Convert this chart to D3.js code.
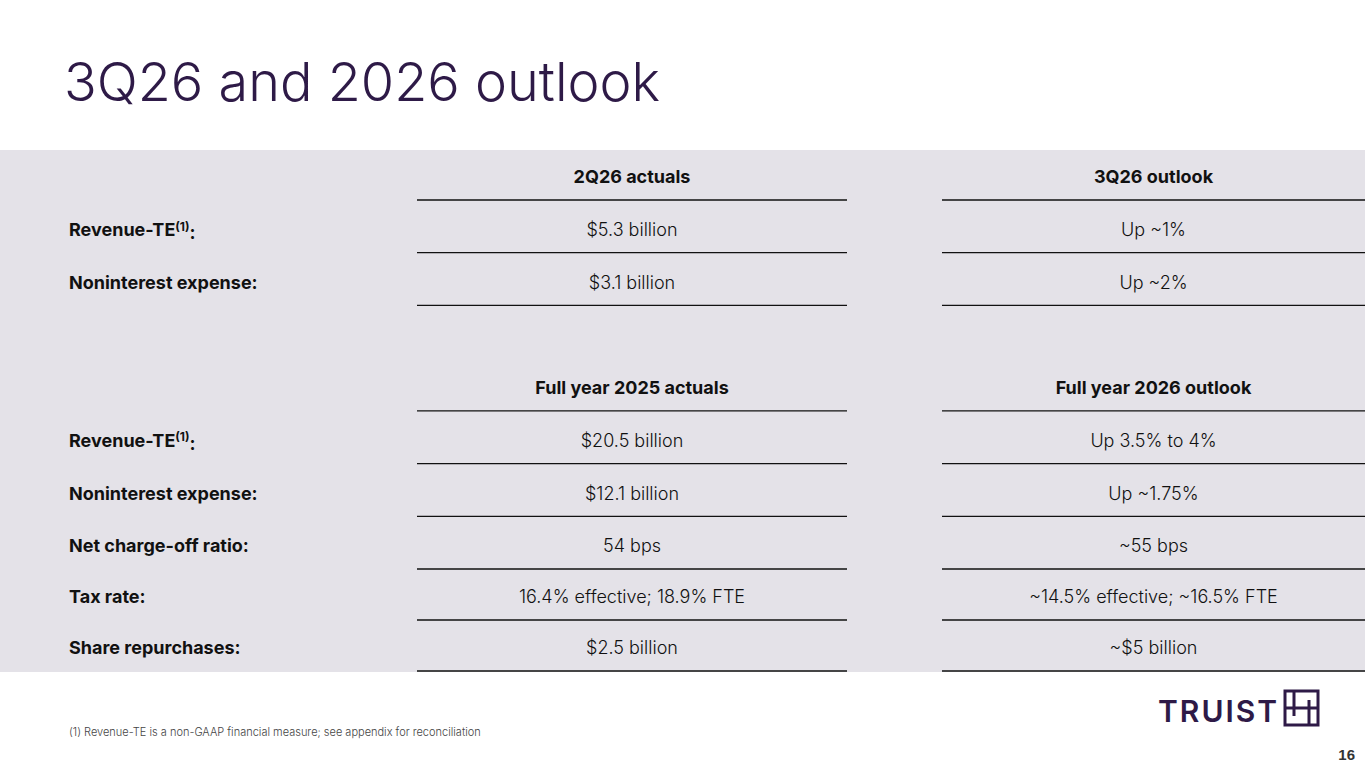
<!DOCTYPE html>
<meta charset="utf-8">
<title>3Q26 and 2026 outlook</title>
<style>
body { margin: 0; background: #fff; }
svg { display: block; font-family: Inter, "Noto Sans", sans-serif; }
</style>
<body>
<script src="https://cdn.jsdelivr.net/npm/d3@7"></script>
<script>

var headers = [["2Q26 actuals", "3Q26 outlook"], ["Full year 2025 actuals", "Full year 2026 outlook"]];
var labels1 = ["Revenue-TE", "Noninterest expense:"];
var actuals1 = ["$5.3 billion", "$3.1 billion"];
var outlook1 = ["Up ~1%", "Up ~2%"];
var labels2 = ["Revenue-TE", "Noninterest expense:", "Net charge-off ratio:", "Tax rate:", "Share repurchases:"];
var actuals2 = ["$20.5 billion", "$12.1 billion", "54 bps", "16.4% effective; 18.9% FTE", "$2.5 billion"];
var outlook2 = ["Up 3.5% to 4%", "Up ~1.75%", "~55 bps", "~14.5% effective; ~16.5% FTE", "~$5 billion"];

var W = 1365, H = 768;
var svg = d3.select("body").append("svg").attr("width", W).attr("height", H);

svg.append("text").attr("x", 64).attr("y", 101).attr("fill", "#2e1a47")
	.style("font-size", "54px").style("font-weight", 300).text("3Q26 and 2026 outlook");

svg.append("rect").attr("x", 0).attr("y", 150).attr("width", W).attr("height", 522).attr("fill", "#e4e2e8");

// row slots: 0 header, 1-2 rows, 3 gap, 4 header, 5-9 rows
var y = d3.scaleLinear().domain([0, 7, 9]).range([177, 546, 648]);
var cols = [{x0: 417, x1: 847}, {x0: 942, x1: 1365}];

function row(slot, label, a, b, bold) {
	var yy = y(slot);
	if (label) {
		var t = svg.append("text").attr("x", 69).attr("y", yy).attr("dy", "0.35em")
			.style("font-size", "18px").style("font-weight", 700).attr("fill", "#111");
		if (label === "Revenue-TE") {
			t.append("tspan").text("Revenue-TE");
			t.append("tspan").attr("dy", "-0.45em").style("font-size", "12px").text("(1)");
			t.append("tspan").attr("dy", "0.45em").text(":");
		} else t.text(label);
	}
	[a, b].forEach(function(s, i) {
		var c = cols[i];
		svg.append("text").attr("x", (c.x0 + c.x1) / 2).attr("y", yy).attr("dy", "0.35em")
			.attr("text-anchor", "middle").attr("fill", "#111")
			.style("font-size", "18px").style("font-weight", bold ? 700 : 300).text(s);
		svg.append("line").attr("x1", c.x0).attr("x2", c.x1)
			.attr("y1", yy + 23).attr("y2", yy + 23).attr("stroke", "#111").attr("stroke-width", 1.3);
	});
}

row(0, null, headers[0][0], headers[0][1], true);
labels1.forEach(function(l, i) { row(1 + i, l, actuals1[i], outlook1[i]); });
row(4, null, headers[1][0], headers[1][1], true);
labels2.forEach(function(l, i) { row(5 + i, l, actuals2[i], outlook2[i]); });

svg.append("text").attr("x", 69).attr("y", 736).attr("fill", "#444").style("font-size", "11px")
	.style("font-weight", 300)
	.text("(1)  Revenue-TE is a non-GAAP financial measure; see appendix for reconciliation");

// logo
svg.append("text").attr("x", 1158).attr("y", 722).attr("fill", "#2e1a47")
	.style("font-size", "30px").style("font-weight", 600).style("letter-spacing", "2px").text("TRUIST");
var g = svg.append("g").attr("fill", "none").attr("stroke", "#2e1a47").attr("stroke-width", 3);
g.append("rect").attr("x", 1285).attr("y", 691).attr("width", 33).attr("height", 34);
g.append("path").attr("d", "M1294 691V716M1309 700V725M1285 708H1318");

svg.append("text").attr("x", 1355).attr("y", 760).attr("text-anchor", "end").attr("fill", "#333")
	.style("font-family", "Arial, sans-serif").style("font-size", "15px").style("font-weight", 700).text("16");
</script>
</body>
</html>
